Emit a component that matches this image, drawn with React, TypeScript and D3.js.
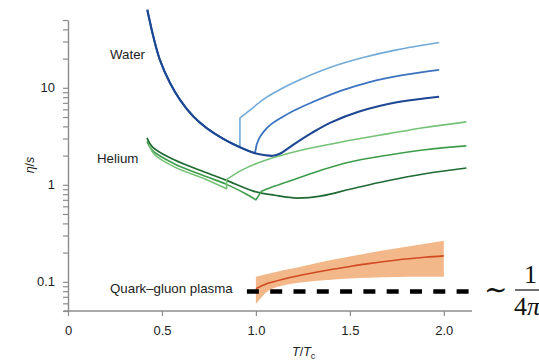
import * as d3 from 'd3';
import { useEffect, useRef } from 'react';

// water, shared liquid branch (T/Tc, eta/s)
const waterLiquidT = [0.422, 0.454, 0.489, 0.543, 0.596, 0.667, 0.738, 0.826, 0.915, 0.995];
const waterLiquidV = [63.7, 33.8, 19.4, 11.2, 7.52, 5.06, 3.84, 2.98, 2.44, 2.12];

const waterLightGasT = [0.915, 0.968, 1.057, 1.128, 1.234, 1.394, 1.571, 1.748, 1.975];
const waterLightGasV = [4.87, 5.9, 8.0, 9.6, 12.1, 16.2, 20.5, 24.6, 29.3];

const waterMidGasT = [1.004, 1.021, 1.045, 1.08, 1.13, 1.2, 1.3, 1.45, 1.6, 1.78, 1.975];
const waterMidGasV = [2.6, 3.1, 3.6, 4.2, 4.85, 5.8, 7.1, 9.3, 11.4, 13.5, 15.3];

const waterDarkGasT = [1.05, 1.09, 1.13, 1.2, 1.3, 1.4, 1.55, 1.75, 1.975];
const waterDarkGasV = [2.02, 1.99, 2.1, 2.6, 3.45, 4.4, 5.7, 7.1, 8.1];

// helium
const heliumDarkT = [0.42, 0.45, 0.565, 0.738, 0.844, 0.986, 1.1, 1.22, 1.35, 1.5, 1.7, 1.9, 2.12];
const heliumDarkV = [3.05, 2.45, 1.81, 1.33, 1.11, 0.86, 0.78, 0.73, 0.77, 0.9, 1.1, 1.3, 1.49];

const heliumMidLiquidT = [0.42, 0.45, 0.565, 0.738, 0.844, 0.95, 1.0];
const heliumMidLiquidV = [2.8, 2.25, 1.65, 1.21, 1.01, 0.8, 0.7];
const heliumMidGasT = [1.03, 1.1, 1.2, 1.35, 1.5, 1.7, 1.9, 2.12];
const heliumMidGasV = [0.86, 0.97, 1.13, 1.42, 1.72, 2.02, 2.3, 2.52];

const heliumLightLiquidT = [0.43, 0.46, 0.565, 0.738, 0.844];
const heliumLightLiquidV = [2.6, 2.05, 1.53, 1.13, 0.91];
const heliumLightGasT = [0.844, 0.92, 1.0, 1.1, 1.25, 1.45, 1.7, 1.9, 2.12];
const heliumLightGasV = [1.13, 1.4, 1.65, 1.92, 2.3, 2.75, 3.35, 3.9, 4.45];

// quark-gluon plasma band
const qgpT = [1.0, 1.06, 1.15, 1.25, 1.4, 1.5, 1.6, 1.75, 1.9, 2.0];
const qgpUpper = [0.113, 0.12, 0.132, 0.145, 0.168, 0.182, 0.198, 0.222, 0.247, 0.265];
const qgpMid = [0.085, 0.096, 0.107, 0.118, 0.134, 0.144, 0.154, 0.168, 0.179, 0.185];
const qgpLower = [0.059, 0.079, 0.092, 0.099, 0.105, 0.108, 0.11, 0.112, 0.113, 0.113];

const kssT = [0.952, 2.144];
const kssValue = 1 / (4 * Math.PI);

const xTicks = [0, 0.5, 1.0, 1.5, 2.0];
const xTickLabels = ['0', '0.5', '1.0', '1.5', '2.0'];
const yMajor = [0.1, 1, 10];
const yTickLabels = ['0.1', '1', '10'];

const SANS = '"Liberation Sans", Arial, Helvetica, sans-serif';
const SERIF = '"Liberation Serif", "DejaVu Serif", serif';

function pts(ts: number[], vs: number[]): [number, number][] {
    return ts.map((t, i) => [t, vs[i]] as [number, number]);
}

function makeChart(el: SVGSVGElement) {
    const svg = d3.select(el);
    svg.selectAll('*').remove();

    const x = d3.scaleLinear().domain([0, 2.15]).range([68, 472]);
    const y = d3.scaleLog().domain([0.05, 50]).range([311, 20]);

    const line = d3.line<[number, number]>()
        .x(d => x(d[0])).y(d => y(d[1]))
        .curve(d3.curveCatmullRom.alpha(0.5));
    // liquid branch, then a straight jump to the gas branch
    const joined = (a: [number, number][], b: [number, number][]) =>
        (line(a) || '') + (line(b) || '').replace(/^M/, 'L');

    // QGP band
    const band = d3.area<number>()
        .x((_, i) => x(qgpT[i]))
        .y0((_, i) => y(qgpLower[i]))
        .y1((_, i) => y(qgpUpper[i]))
        .curve(d3.curveMonotoneX);
    svg.append('path').attr('d', band(qgpT) || '').attr('fill', '#f3b88a');
    svg.append('path').attr('d', line(pts(qgpT, qgpMid)) || '')
        .attr('fill', 'none').attr('stroke', '#d04a22').attr('stroke-width', 1.6);

    svg.append('line')
        .attr('x1', x(kssT[0])).attr('x2', x(kssT[1]))
        .attr('y1', y(kssValue)).attr('y2', y(kssValue))
        .attr('stroke', '#000').attr('stroke-width', 4.5)
        .attr('stroke-dasharray', '12 11.3');

    const liquidW = pts(waterLiquidT, waterLiquidV);
    const series = [
        { d: line(pts(heliumDarkT, heliumDarkV)), c: '#1f6a33', w: 1.7 },
        { d: joined(pts(heliumMidLiquidT, heliumMidLiquidV), pts(heliumMidGasT, heliumMidGasV)), c: '#3f9c4c', w: 1.6 },
        { d: joined(pts(heliumLightLiquidT, heliumLightLiquidV), pts(heliumLightGasT, heliumLightGasV)), c: '#74c276', w: 1.6 },
        { d: joined(liquidW.slice(0, 9), pts(waterLightGasT, waterLightGasV)), c: '#72aad8', w: 1.6 },
        { d: joined(liquidW, pts(waterMidGasT, waterMidGasV)), c: '#3b73c0', w: 1.8 },
        { d: line(liquidW.concat(pts(waterDarkGasT, waterDarkGasV))), c: '#1d4793', w: 2.1 },
    ];
    svg.append('g').selectAll('path').data(series).enter().append('path')
        .attr('d', s => s.d || '')
        .attr('fill', 'none')
        .attr('stroke', s => s.c)
        .attr('stroke-width', s => s.w)
        .attr('stroke-linejoin', 'round');

    // axes
    const yAxis = d3.axisLeft(y)
        .tickValues(y.ticks())
        .tickSize(5).tickSizeOuter(0).tickPadding(8)
        .tickFormat((v: any) => {
            const i = yMajor.findIndex(m => Math.abs(m - v) < 1e-9 * m);
            return i >= 0 ? yTickLabels[i] : '';
        });
    const gy = svg.append('g').attr('transform', 'translate(68,0)').call(yAxis as any);

    const xAxis = d3.axisBottom(x)
        .tickValues(xTicks)
        .tickSize(5).tickSizeOuter(0).tickPadding(10)
        .tickFormat((_: any, i: number) => xTickLabels[i]);
    const gx = svg.append('g').attr('transform', 'translate(0,311)').call(xAxis as any);
    gx.select('.domain').remove();
    gx.append('line').attr('x1', 63.5).attr('x2', 472).attr('y1', 0).attr('y2', 0)
        .attr('stroke', '#8c8c8c').attr('stroke-width', 1.4);

    [gx, gy].forEach(g => {
        g.selectAll('.domain').attr('stroke', '#8c8c8c').attr('stroke-width', 1.4);
        g.selectAll('.tick line').attr('stroke', '#8c8c8c').attr('stroke-width', 1.2);
        g.selectAll('text').attr('fill', '#222').attr('font-size', 13).attr('font-family', SANS);
    });

    // texts
    const label = (tx: number, ty: number, s: string) =>
        svg.append('text').attr('x', tx).attr('y', ty)
            .attr('font-family', SANS).attr('font-size', 13.3).attr('fill', '#222').text(s);
    label(110, 59, 'Water');
    label(97, 163, 'Helium');
    label(110, 293, 'Quark\u2013gluon plasma');

    const yl = svg.append('text')
        .attr('transform', 'translate(34,165) rotate(-90)')
        .attr('text-anchor', 'middle')
        .attr('font-family', SANS).attr('font-size', 12.5).attr('fill', '#222');
    yl.append('tspan').attr('font-style', 'italic').text('\u03b7');
    yl.append('tspan').text('/');
    yl.append('tspan').attr('font-style', 'italic').text('s');

    const xl = svg.append('text').attr('x', 292).attr('y', 356)
        .attr('font-family', SANS).attr('font-size', 12.5).attr('fill', '#222');
    xl.append('tspan').attr('font-style', 'italic').text('T');
    xl.append('tspan').text('/');
    xl.append('tspan').attr('font-style', 'italic').text('T');
    xl.append('tspan').attr('font-size', 9).attr('dy', 3).text('c');

    // ~ 1/(4 pi)
    svg.append('text').attr('x', 484).attr('y', 299)
        .attr('font-family', SERIF).attr('font-size', 28).attr('fill', '#111').text('\u223c');
    svg.append('text').attr('x', 524).attr('y', 283)
        .attr('font-family', SERIF).attr('font-size', 26).attr('fill', '#111').text('1');
    svg.append('line').attr('x1', 515).attr('x2', 539).attr('y1', 290).attr('y2', 290)
        .attr('stroke', '#111').attr('stroke-width', 1.2);
    const fr = svg.append('text').attr('x', 514).attr('y', 315)
        .attr('font-family', SERIF).attr('font-size', 26).attr('fill', '#111');
    fr.append('tspan').text('4');
    fr.append('tspan').attr('font-style', 'italic').text('\u03c0');
}

function App() {
    const ref = useRef<SVGSVGElement>(null);
    useEffect(() => {
        if (ref.current) makeChart(ref.current);
    });
    return (
        <svg ref={ref} width={539} height={360}
            style={{ position: 'absolute', left: 0, top: 0, background: '#fff' }}>
        </svg>
    );
}

export default App;
